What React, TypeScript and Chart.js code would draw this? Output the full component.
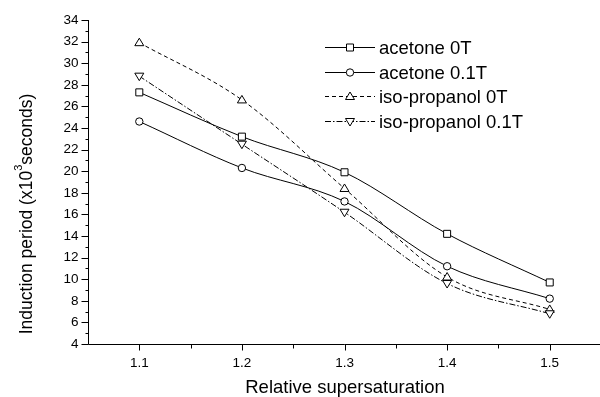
import React, { useEffect, useRef } from "react";
import { Chart, registerables } from "chart.js";

Chart.register(...registerables);

const xValues = [1.1, 1.2, 1.3, 1.4, 1.5];
const acetone0T = [27.3, 23.2, 19.9, 14.2, 9.7];
const acetone01T = [24.6, 20.3, 17.2, 11.2, 8.2];
const isoPropanol0T = [31.9, 26.6, 18.4, 10.2, 7.2];
const isoPropanol01T = [28.8, 22.5, 16.2, 9.6, 6.8];
const seriesNames = ["acetone 0T", "acetone 0.1T", "iso-propanol 0T", "iso-propanol 0.1T"];
const xTickLabels = ["1.1", "1.2", "1.3", "1.4", "1.5"];
const yTickLabels = ["4", "6", "8", "10", "12", "14", "16", "18", "20", "22", "24", "26", "28", "30", "32", "34"];

const FONT = "'Liberation Sans', Arial, sans-serif";

type Marker = "rect" | "circle" | "triangle" | "downtriangle";

function drawMarker(ctx: CanvasRenderingContext2D, kind: Marker, x: number, y: number) {
  ctx.save();
  ctx.fillStyle = "#fff";
  ctx.strokeStyle = "#000";
  ctx.lineWidth = 1;
  ctx.setLineDash([]);
  ctx.beginPath();
  if (kind === "rect") {
    ctx.rect(x - 3.5, y - 3.5, 7, 7);
  } else if (kind === "circle") {
    ctx.arc(x, y, 3.7, 0, Math.PI * 2);
  } else if (kind === "triangle") {
    ctx.moveTo(x, y - 4.5);
    ctx.lineTo(x + 4.5, y + 3);
    ctx.lineTo(x - 4.5, y + 3);
    ctx.closePath();
  } else {
    ctx.moveTo(x, y + 4.5);
    ctx.lineTo(x + 4.5, y - 3);
    ctx.lineTo(x - 4.5, y - 3);
    ctx.closePath();
  }
  ctx.fill();
  ctx.stroke();
  ctx.restore();
}

const markers: Marker[] = ["rect", "circle", "triangle", "downtriangle"];
const dashes: number[][] = [[], [], [4, 3], [6, 2, 1.5, 2]];

const decorPlugin = {
  id: "decor",
  afterDatasetsDraw(chart: any) {
    const ctx: CanvasRenderingContext2D = chart.ctx;
    const xs = chart.scales.x;
    const ys = chart.scales.y;
    const area = chart.chartArea;
    chart.data.datasets.forEach((ds: any, i: number) => {
      const meta = chart.getDatasetMeta(i);
      meta.data.forEach((pt: any) => drawMarker(ctx, markers[i], pt.x, pt.y));
    });
    ctx.save();
    ctx.strokeStyle = "#000";
    ctx.lineWidth = 1;
    ctx.setLineDash([]);
    const ax = Math.round(area.left) + 0.5;
    const ay = Math.round(area.bottom) + 0.5;
    ctx.beginPath();
    ctx.moveTo(ax, Math.round(area.top));
    ctx.lineTo(ax, ay);
    ctx.moveTo(ax, ay);
    ctx.lineTo(area.right, ay);
    ctx.stroke();
    ctx.beginPath();
    for (let v = 4; v <= 34; v += 1) {
      const py = Math.round(ys.getPixelForValue(v)) + 0.5;
      const len = v % 2 === 0 ? 7 : 3;
      ctx.moveTo(ax - len, py);
      ctx.lineTo(ax, py);
    }
    for (let k = 0; k <= 9; k++) {
      const v = 1.1 + k * 0.05;
      if (v > xs.max) break;
      const px = Math.round(xs.getPixelForValue(v)) + 0.5;
      const len = k % 2 === 0 ? 6 : 4;
      ctx.moveTo(px, ay);
      ctx.lineTo(px, ay + len);
    }
    ctx.stroke();
    ctx.fillStyle = "#000";
    ctx.font = `13.5px ${FONT}`;
    ctx.textAlign = "right";
    ctx.textBaseline = "middle";
    yTickLabels.forEach((lab) => {
      const py = ys.getPixelForValue(parseFloat(lab));
      ctx.fillText(lab, ax - 10, py);
    });
    ctx.textAlign = "center";
    ctx.textBaseline = "top";
    xTickLabels.forEach((lab) => {
      const px = xs.getPixelForValue(parseFloat(lab));
      ctx.fillText(lab, px, ay + 12);
    });
    ctx.font = `18.5px ${FONT}`;
    ctx.textBaseline = "middle";
    ctx.fillText("Relative supersaturation", 345, 388);
    ctx.save();
    ctx.translate(27, 214);
    ctx.rotate(-Math.PI / 2);
    ctx.textAlign = "left";
    ctx.textBaseline = "middle";
    const p1 = "Induction period (x10";
    const p2 = "3";
    const p3 = "seconds)";
    ctx.font = `17.5px ${FONT}`;
    const w1 = ctx.measureText(p1).width;
    const w3 = ctx.measureText(p3).width;
    ctx.font = `11px ${FONT}`;
    const w2 = ctx.measureText(p2).width;
    const total = w1 + w2 + w3;
    let cx = -total / 2;
    ctx.font = `17.5px ${FONT}`;
    ctx.fillText(p1, cx, 0);
    cx += w1;
    ctx.font = `11px ${FONT}`;
    ctx.fillText(p2, cx, -8);
    cx += w2;
    ctx.font = `17.5px ${FONT}`;
    ctx.fillText(p3, cx, 0);
    ctx.restore();
    const rowY = [47, 71.5, 96, 120.5];
    ctx.textAlign = "left";
    ctx.textBaseline = "middle";
    ctx.font = `18.5px ${FONT}`;
    seriesNames.forEach((name, i) => {
      const y = Math.round(rowY[i]) + 0.5;
      ctx.save();
      ctx.setLineDash(dashes[i]);
      ctx.beginPath();
      ctx.moveTo(325, y);
      ctx.lineTo(375, y);
      ctx.stroke();
      ctx.restore();
      drawMarker(ctx, markers[i], 350, y);
      ctx.fillStyle = "#000";
      ctx.fillText(name, 379, y + 1);
    });
    ctx.restore();
  },
};

export default function App() {
  const ref = useRef<HTMLCanvasElement | null>(null);
  useEffect(() => {
    if (!ref.current) return;
    const seriesData = [acetone0T, acetone01T, isoPropanol0T, isoPropanol01T];
    const chart = new Chart(ref.current, {
      type: "line",
      data: {
        datasets: seriesData.map((vals, i) => ({
          label: seriesNames[i],
          data: vals.map((v, j) => ({ x: xValues[j], y: v })),
          borderColor: "#000",
          borderWidth: 1,
          borderDash: dashes[i],
          pointRadius: 0,
          fill: false,
          cubicInterpolationMode: "monotone" as const,
        })),
      },
      options: {
        animation: false,
        responsive: false,
        maintainAspectRatio: false,
        layout: { padding: { left: 88, top: 20, right: 0, bottom: 53 } },
        plugins: { legend: { display: false }, tooltip: { enabled: false } },
        scales: {
          x: { type: "linear", display: false, min: 1.05, max: 1.549 },
          y: { type: "linear", display: false, min: 4, max: 34 },
        },
      },
      plugins: [decorPlugin],
    });
    return () => chart.destroy();
  }, []);
  return (
    <div style={{ position: "fixed", left: 0, top: 0, width: 600, height: 397, background: "#fff" }}>
      <canvas ref={ref} width={600} height={397} style={{ width: 600, height: 397 }} />
    </div>
  );
}
